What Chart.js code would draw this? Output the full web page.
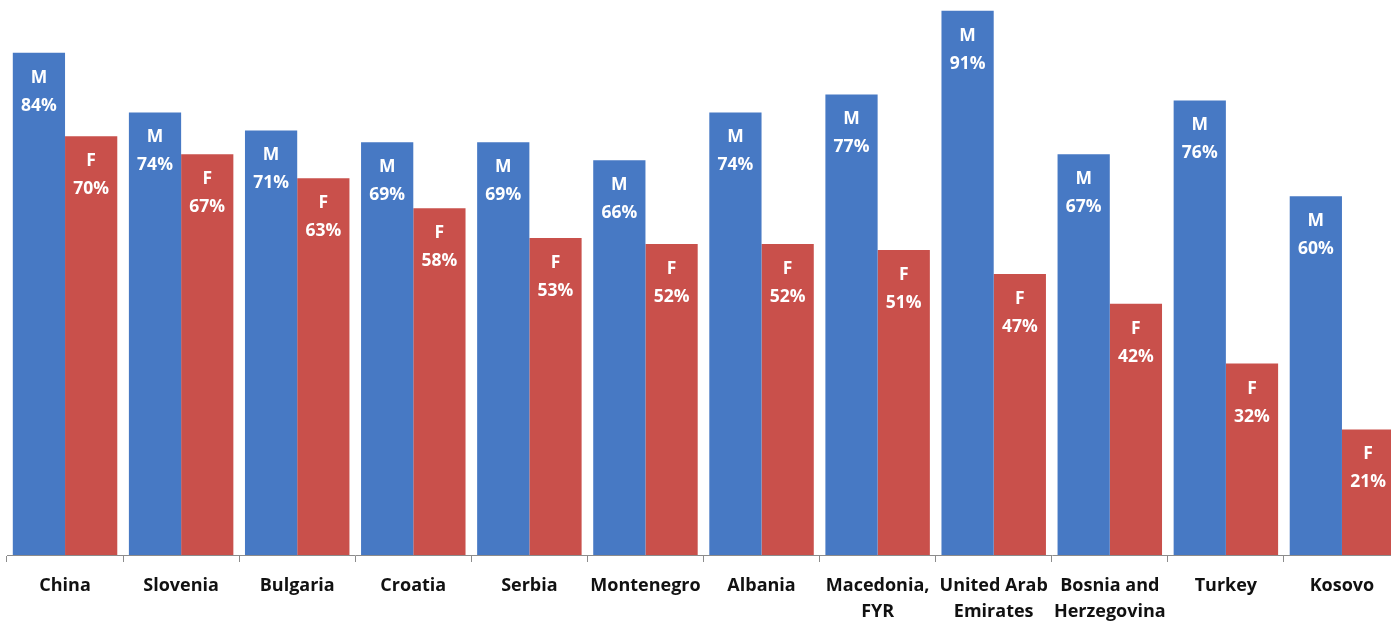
<!DOCTYPE html>
<html>
<head>
<meta charset="utf-8">
<title>M / F by country</title>
<script src="https://cdn.jsdelivr.net/npm/chart.js@4.4.1/dist/chart.umd.min.js"></script>
<style>
  html, body { margin: 0; padding: 0; background: #fff; overflow: hidden; }
  #wrap { position: relative; width: 1402px; height: 621px; }
</style>
</head>
<body>
<div id="wrap"><canvas id="chart" width="1402" height="621"></canvas></div>
<script>
// countries along the x axis (two-line names as arrays)
const countries = [
  "China", "Slovenia", "Bulgaria", "Croatia", "Serbia", "Montenegro", "Albania",
  ["Macedonia,", "FYR"], ["United Arab", "Emirates"], ["Bosnia and", "Herzegovina"],
  "Turkey", "Kosovo"
];

// percentages, male and female
const male = [84, 74, 71, 69, 69, 66, 74, 77, 91, 67, 76, 60];
const female = [70, 67, 63, 58, 53, 52, 52, 51, 47, 42, 32, 21];

const seriesTags = ["M", "F"];

const BLUE = "#4779C4";
const RED = "#C9504B";
const LABEL_FONT = "bold 17.5px 'Open Sans', sans-serif";

// white "M / 84%" text inside the top of each bar
const barLabels = {
  id: "barLabels",
  afterDatasetsDraw(chart) {
    const ctx = chart.ctx;
    ctx.save();
    ctx.fillStyle = "#ffffff";
    ctx.font = LABEL_FONT;
    ctx.textAlign = "center";
    ctx.textBaseline = "alphabetic";
    chart.data.datasets.forEach((ds, di) => {
      const meta = chart.getDatasetMeta(di);
      meta.data.forEach((bar, i) => {
        ctx.fillText(seriesTags[di], bar.x, bar.y + 30);
        ctx.fillText(ds.data[i] + "%", bar.x, bar.y + 58);
      });
    });
    ctx.restore();
  }
};

new Chart(document.getElementById("chart").getContext("2d"), {
  type: "bar",
  data: {
    labels: countries,
    datasets: [
      { label: "M", data: male, backgroundColor: BLUE },
      { label: "F", data: female, backgroundColor: RED },
    ],
  },
  options: {
    responsive: false,
    animation: false,
    layout: { padding: { left: 7, right: 2, top: 0, bottom: 0 } },
    datasets: { bar: { categoryPercentage: 0.9, barPercentage: 1.0 } },
    plugins: { legend: { display: false }, tooltip: { enabled: false } },
    scales: {
      x: {
        grid: {
          drawOnChartArea: false,
          color: "#8c8c8c",
          tickLength: 7,
          offset: true,
        },
        border: { color: "#8c8c8c", width: 1 },
        ticks: {
          color: "#111",
          padding: 11,
          maxRotation: 0,
          autoSkip: false,
          font: { family: "'Open Sans', sans-serif", size: 18, weight: "bold", lineHeight: 1.45 },
        },
        afterFit(scale) { scale.height = 66; },
      },
      y: {
        display: false,
        min: 0,
        max: 92.8,
      },
    },
  },
  plugins: [barLabels],
});
</script>
</body>
</html>
